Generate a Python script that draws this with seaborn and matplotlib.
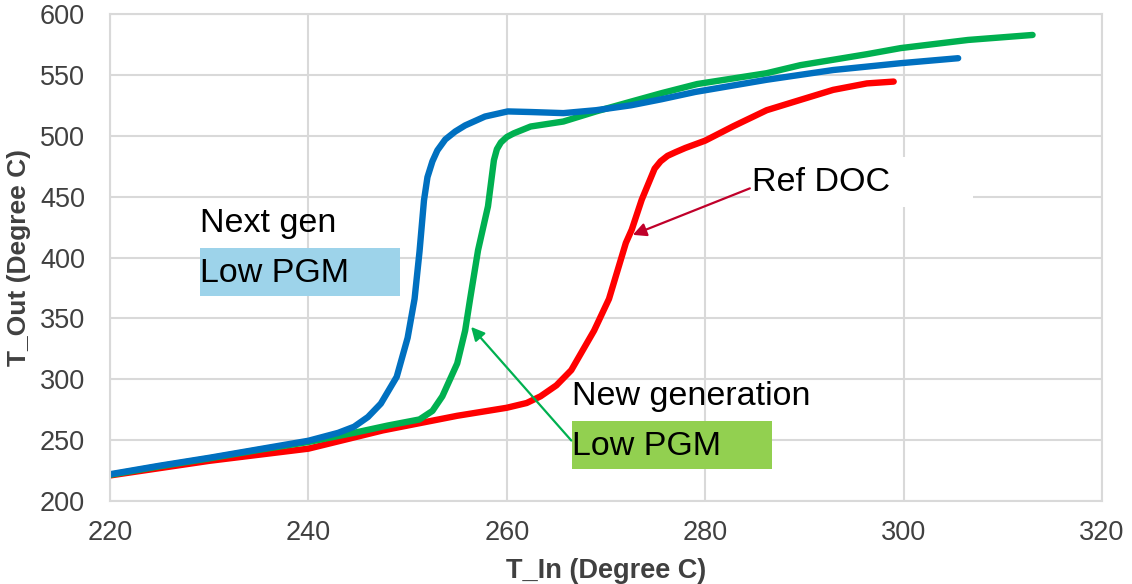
import matplotlib
matplotlib.use("Agg")
import matplotlib.pyplot as plt
from matplotlib.patches import Rectangle
import seaborn as sns

# ---- data ----
blue_x = [220, 225, 230, 235, 240, 243, 244.6, 246, 247.3, 248.9, 250, 250.7, 251.2, 251.65,
          252.0, 252.5, 253.0, 253.8, 254.8, 255.8, 257.8, 260.1, 262.4, 265.7, 269, 272.5,
          275.6, 279, 286.2, 292.9, 299.7, 305.5]
blue_y = [222, 229, 235.5, 242.5, 249.5, 256, 261, 269, 280, 302, 334, 366, 405, 447,
          466, 479, 488, 497, 503.5, 508.5, 515.8, 520, 519.5, 518.6, 521, 525,
          530, 536, 546, 554, 559.6, 563.7]

green_x = [220, 225, 230, 235, 240, 244.6, 248, 251.2, 252.5, 253.5, 255, 255.8, 256.3, 257.1,
           258.1, 258.7, 259.0, 259.4, 260.0, 260.7, 262.4, 265.7, 269, 272.5, 275.6, 279.2,
           286.2, 289.6, 296.3, 299.7, 306.5, 313]
green_y = [221.5, 228.5, 235, 242, 248.5, 256, 262, 267, 274, 286, 313, 340, 366, 406,
           442, 480, 489, 494.5, 499, 502, 507.6, 511.7, 520, 528, 535, 542.5,
           551.4, 558, 567, 572, 578.7, 582.8]

red_x = [220, 230, 240, 247.5, 255, 260, 262, 263.4, 265, 266.5, 268.8, 270.3, 272, 272.6,
         273.6, 274.9, 275.5, 276.2, 277, 278, 280, 282.8, 286.2, 289.6, 292.9, 296.3, 299]
red_y = [221, 233, 243, 258, 270, 276.6, 280.5, 286, 295, 307.5, 340, 366, 412, 423,
         447.5, 473, 479, 483.5, 486.5, 490, 496, 507.7, 521, 529.5, 537.7, 543, 544.5]

x_ticks = [220, 240, 260, 280, 300, 320]
y_ticks = [200, 250, 300, 350, 400, 450, 500, 550, 600]

BLUE = "#0070C0"
GREEN = "#00B050"
RED = "#FF0000"

sns.set_style("whitegrid")
plt.rcParams["font.family"] = ["Liberation Sans", "DejaVu Sans"]

fig = plt.figure(figsize=(11.32, 5.84), dpi=100)
ax = fig.add_axes([0.0972, 0.1421, 0.9735 - 0.0972, 0.976 - 0.1421])

sns.lineplot(x=red_x, y=red_y, color=RED, linewidth=4.6, ax=ax, sort=False)
sns.lineplot(x=green_x, y=green_y, color=GREEN, linewidth=4.6, ax=ax, sort=False)
sns.lineplot(x=blue_x, y=blue_y, color=BLUE, linewidth=4.6, ax=ax, sort=False)

ax.set_xlim(220, 320)
ax.set_ylim(200, 600)
ax.set_xticks(x_ticks)
ax.set_yticks(y_ticks)
ax.grid(True, color="#D9D9D9", linewidth=1.5)
ax.set_axisbelow(True)
for s in ax.spines.values():
    s.set_color("#D9D9D9")
    s.set_linewidth(1.5)
ax.tick_params(axis="both", length=0, labelsize=19.5, colors="#404040")
ax.tick_params(axis="y", pad=18)
ax.tick_params(axis="x", pad=14)

ax.set_xlabel("T_In (Degree C)", fontsize=19.5, fontweight="bold", color="#404040", labelpad=8)
ax.set_ylabel("T_Out (Degree C)", fontsize=19, fontweight="bold", color="#404040", labelpad=6)

# annotation boxes
ax.add_patch(Rectangle((229.07, 368.4), 20.16, 39.4, facecolor="#9DD3EA", edgecolor="none", zorder=1))
ax.add_patch(Rectangle((266.57, 226.3), 20.16, 39.4, facecolor="#92D050", edgecolor="none", zorder=1))
ax.add_patch(Rectangle((284.5, 441.5), 22.5, 41.0, facecolor="white", edgecolor="none", zorder=1))

tkw = dict(fontsize=24.5, color="black", va="baseline", ha="left", zorder=5)
ax.text(229.1, 421, "Next gen", **tkw)
ax.text(229.1, 380, "Low PGM", **tkw)
ax.text(266.6, 279, "New generation", **tkw)
ax.text(266.6, 238, "Low PGM", **tkw)
ax.text(284.7, 454.6, "Ref DOC", **tkw)

ax.annotate("", xy=(256.4, 343), xytext=(266.5, 249.7),
            arrowprops=dict(arrowstyle="-|>", color=GREEN, lw=1.6, mutation_scale=20,
                            shrinkA=0, shrinkB=0), zorder=6)
ax.annotate("", xy=(272.7, 418.6), xytext=(284.5, 456.8),
            arrowprops=dict(arrowstyle="-|>", color="#C0002A", lw=1.6, mutation_scale=20,
                            shrinkA=0, shrinkB=0), zorder=6)

fig.savefig("out.png", dpi=100)
